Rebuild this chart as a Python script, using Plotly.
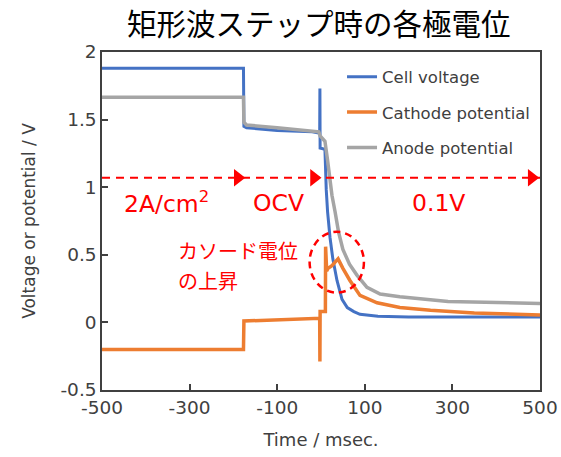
import plotly.graph_objects as go

# ---- data (time in ms, values in V) ----
t_cell = [-500, -177, -176, -170, -100, -20, -3, -2.5, -2, 9, 10, 12, 15, 20.5, 27, 36.5, 48, 60, 75, 89, 130, 200, 300, 400, 500]
v_cell = [1.88, 1.88, 1.45, 1.44, 1.42, 1.41, 1.40, 1.73, 1.29, 1.28, 1.15, 0.98, 0.82, 0.63, 0.47, 0.31, 0.17, 0.11, 0.08, 0.06, 0.045, 0.04, 0.04, 0.04, 0.04]

t_cath = [-500, -177, -176, -100, -5, -3, -2.5, -2, 10, 10.5, 13, 16, 25, 39, 50, 66, 89, 128, 180, 250, 350, 500]
v_cath = [-0.20, -0.20, 0.01, 0.02, 0.03, 0.03, -0.29, 0.08, 0.08, 0.56, 0.38, 0.40, 0.42, 0.47, 0.40, 0.31, 0.20, 0.145, 0.11, 0.09, 0.07, 0.055]

t_anode = [-500, -177, -176, -170, -100, -20, -5, -2, 3, 9, 15, 25, 32, 40, 50, 65, 82, 105, 135, 180, 290, 500]
v_anode = [1.665, 1.665, 1.48, 1.46, 1.44, 1.42, 1.41, 1.38, 1.36, 1.34, 1.20, 0.94, 0.82, 0.67, 0.54, 0.43, 0.35, 0.26, 0.21, 0.19, 0.155, 0.14]

series_names = ["Cell voltage", "Cathode potential", "Anode potential"]
series_colors = ["#4472C4", "#ED7D31", "#A5A5A5"]

x_ticks = [-500, -300, -100, 100, 300, 500]
y_ticks = [-0.5, 0, 0.5, 1, 1.5, 2]

step_level = 1.07
arrow_x = [-190, -16, 481]
phase_labels = ["2A/cm<sup>2</sup>", "OCV", "0.1V"]
phase_x = [-353, -96, 268]
circle_center = (36, 0.445)
circle_radius = (62, 0.225)

title = "矩形波ステップ時の各極電位"
note_lines = ["カソード電位", "の上昇"]

FONT = "DejaVu Sans, Noto Sans CJK JP, sans-serif"
JP = "Noto Sans CJK JP, sans-serif"
RED = "#FF0000"
AX = "#404040"

fig = go.Figure()
for i, (tx, vy) in enumerate([(t_cell, v_cell), (t_cath, v_cath), (t_anode, v_anode)]):
    fig.add_trace(go.Scatter(
        x=tx, y=vy, mode="lines", name=series_names[i],
        line=dict(color=series_colors[i], width=3.5 if i else 3),
        legendgroup=str(i),
    ))

# dashed step line
fig.add_shape(type="line", xref="x", yref="y", x0=-500, x1=500, y0=step_level, y1=step_level,
              line=dict(color=RED, width=2, dash="8px,6px"))
fig.add_trace(go.Scatter(x=arrow_x, y=[step_level] * len(arrow_x), mode="markers",
                         marker=dict(symbol="triangle-right", size=15, color=RED, line=dict(width=0)),
                         showlegend=False, hoverinfo="skip"))

for lab, xp in zip(phase_labels, phase_x):
    fig.add_annotation(x=xp, y=0.885, xref="x", yref="y", text=lab, showarrow=False,
                       font=dict(family=FONT, size=23.5, color=RED))

fig.add_annotation(x=-330, y=0.53, xref="x", yref="y", text=note_lines[0], showarrow=False,
                   xanchor="left", font=dict(family=JP, size=20, color=RED))
fig.add_annotation(x=-330, y=0.31, xref="x", yref="y", text=note_lines[1], showarrow=False,
                   xanchor="left", font=dict(family=JP, size=20, color=RED))

fig.add_shape(type="circle", xref="x", yref="y",
              x0=circle_center[0] - circle_radius[0], x1=circle_center[0] + circle_radius[0],
              y0=circle_center[1] - circle_radius[1], y1=circle_center[1] + circle_radius[1],
              line=dict(color=RED, width=2.5, dash="7px,5px"))

fig.update_layout(
    width=561, height=457,
    margin=dict(l=102, r=21, t=52, b=67, autoexpand=False),
    paper_bgcolor="white", plot_bgcolor="white",
    title=dict(text=title, x=0.568, xanchor="center", y=0.945, yanchor="middle",
               font=dict(family=JP, size=29.5, color="#000000")),
    font=dict(family=FONT, color=AX),
    legend=dict(x=0.548, y=0.978, xanchor="left", yanchor="top", bgcolor="rgba(0,0,0,0)",
                font=dict(family=FONT, size=16.5, color=AX), tracegroupgap=11,
                traceorder="grouped", itemwidth=30),
    xaxis=dict(range=[-500, 500], tickvals=x_ticks, ticktext=[str(v) for v in x_ticks],
               ticks="inside", ticklen=6, tickcolor=AX, tickwidth=1.5, automargin=False,
               showline=True, linecolor=AX, linewidth=1.5, mirror=True,
               showgrid=False, zeroline=False,
               tickfont=dict(family=FONT, size=18.5, color=AX),
               title=dict(text="Time / msec.", font=dict(family=FONT, size=18, color=AX), standoff=16)),
    yaxis=dict(range=[-0.5, 2], tickvals=y_ticks, ticktext=["-0.5", "0", "0.5", "1", "1.5", "2"],
               ticks="inside", ticklen=6, tickcolor=AX, tickwidth=1.5, automargin=False,
               showline=True, linecolor=AX, linewidth=1.5, mirror=True,
               showgrid=False, zeroline=False,
               tickfont=dict(family=FONT, size=18.5, color=AX),
               title=dict(text="Voltage or potential / V", font=dict(family=FONT, size=17, color=AX), standoff=20)),
)

fig.write_html("out.html")
